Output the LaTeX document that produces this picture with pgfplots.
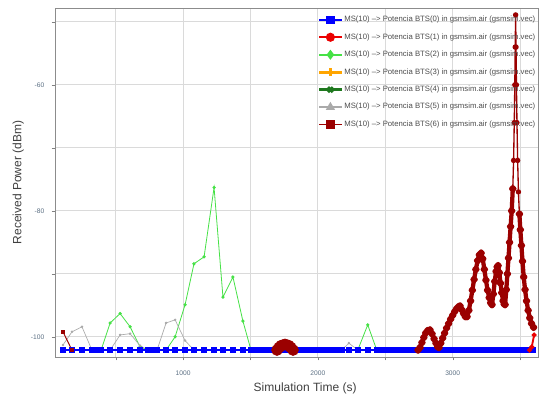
\documentclass[border=0pt]{standalone}
\usepackage{fontspec}
\setmainfont{Liberation Sans}
\usepackage{pgfplots}
\pgfplotsset{compat=1.18}
\definecolor{cblue}{RGB}{0,0,255}
\definecolor{cred}{RGB}{235,0,0}
\definecolor{cgreen}{RGB}{70,225,70}
\definecolor{corange}{RGB}{255,165,0}
\definecolor{cdkgreen}{RGB}{30,120,30}
\definecolor{cgray}{RGB}{170,170,170}
\definecolor{cdkred}{RGB}{155,0,0}
\definecolor{gridc}{RGB}{218,218,218}
\definecolor{tickc}{RGB}{90,110,130}
\begin{document}
\begin{tikzpicture}
\path[use as bounding box] (-41.25pt,-29.25pt) rectangle (363.75pt,267.75pt);
\begin{axis}[
  at={(0,0)}, anchor=south west,
  width=362.25pt, height=261.75pt, scale only axis,
  xmin=50, xmax=3633, ymin=-103.2, ymax=-47.8,
  xtick={500,1000,1500,2000,2500,3000,3500}, xticklabels={,1000,,2000,,3000,},
  ytick={-100,-90,-80,-70,-60,-50}, yticklabels={-100,,-80,,-60,},
  xtick pos=bottom, ytick pos=left,
  grid=major, major grid style={gridc, line width=0.6pt},
  axis line style={black!45},
  tick align=outside, major tick length=2.5pt, tick style={black!50},
  ticklabel style={font=\fontsize{5}{6}\selectfont, text=tickc},
  xticklabel style={anchor=center, yshift=-10pt},
  yticklabel style={anchor=east, xshift=-2pt},
  xlabel={Simulation Time (s)}, ylabel={Received Power (dBm)},
  label style={font=\fontsize{9}{11}\selectfont, text=black!75},
  xlabel style={at={(axis description cs:0.518,-0.0888)}, anchor=center},
  ylabel style={at={(axis description cs:-0.076,0.5)}, anchor=center},
  legend style={at={(1,1)}, anchor=north east, xshift=-1pt, yshift=-5pt, draw=none, fill=none,
    inner sep=0pt, font=\fontsize{5.8}{6.5}\selectfont, text=black!70, row sep=5.8pt,
    nodes={inner sep=0.8pt}},
  legend cell align=left,
]
% z-order: green, gray, blue, dark red, red
\addplot[forget plot, cgreen, line width=0.6pt, mark=*, mark size=0.9pt] coordinates {
(109,-102.1)(176,-102.1)(250,-102.1)(324,-102.1)(392,-102.1)(459,-97.8)(533,-96.3)(607,-98.4)(681,-101.6)(741,-102.1)(807,-102.1)(874,-102.1)(941,-100.0)(1015,-94.9)(1081,-88.4)(1156,-87.3)(1230,-76.3)(1296,-93.7)(1370,-90.5)(1444,-97.5)(1504,-102.1)(2296,-102.1)(2370,-98.1)(2437,-102.1)};
\addplot[forget plot, cgray, line width=0.5pt, mark=*, mark size=0.7pt] coordinates {
(109,-101.3)(176,-99.2)(250,-98.4)(324,-102.1)(459,-102.1)(533,-99.7)(607,-99.5)(681,-101.4)(741,-102.1)(807,-102.1)(874,-97.8)(941,-97.3)(1015,-100.6)(1081,-102.1)(2178,-102.1)(2230,-101.0)(2296,-102.1)};
\addplot[forget plot, cblue, line width=1pt, mark=square*, mark size=1.6pt] coordinates {
(109,-102.1)(176,-102.1)(250,-102.1)(324,-102.1)(336,-102.1)(348,-102.1)(360,-102.1)(372,-102.1)(384,-102.1)(396,-102.1)(459,-102.1)(533,-102.1)(607,-102.1)(681,-102.1)(741,-102.1)(752,-102.1)(763,-102.1)(774,-102.1)(785,-102.1)(796,-102.1)(807,-102.1)(874,-102.1)(941,-102.1)(1015,-102.1)(1081,-102.1)(1156,-102.1)(1230,-102.1)(1296,-102.1)(1370,-102.1)(1444,-102.1)
(1504,-102.1)(1529,-102.1)(1554,-102.1)(1579,-102.1)(1604,-102.1)(1629,-102.1)(1654,-102.1)(1679,-102.1)(1704,-102.1)(1729,-102.1)(1754,-102.1)(1779,-102.1)(1804,-102.1)(1829,-102.1)(1854,-102.1)(1879,-102.1)(1904,-102.1)(1929,-102.1)(1954,-102.1)(1979,-102.1)(2004,-102.1)(2029,-102.1)(2054,-102.1)(2079,-102.1)(2104,-102.1)(2129,-102.1)(2154,-102.1)(2178,-102.1)
(2230,-102.1)(2296,-102.1)(2370,-102.1)
(2437,-102.1)(2462,-102.1)(2487,-102.1)(2512,-102.1)(2537,-102.1)(2562,-102.1)(2587,-102.1)(2612,-102.1)(2637,-102.1)(2662,-102.1)(2687,-102.1)(2712,-102.1)(2737,-102.1)(2762,-102.1)(2787,-102.1)(2812,-102.1)(2837,-102.1)(2862,-102.1)(2887,-102.1)(2912,-102.1)(2937,-102.1)(2962,-102.1)(2987,-102.1)(3012,-102.1)(3037,-102.1)(3062,-102.1)(3087,-102.1)(3112,-102.1)(3137,-102.1)(3162,-102.1)(3187,-102.1)(3212,-102.1)(3237,-102.1)(3262,-102.1)(3287,-102.1)(3312,-102.1)(3337,-102.1)(3362,-102.1)(3387,-102.1)(3412,-102.1)(3437,-102.1)(3462,-102.1)(3487,-102.1)(3512,-102.1)(3537,-102.1)(3562,-102.1)(3587,-102.1)(3600,-102.1)};
\addplot[forget plot, cdkred, line width=0.7pt, mark=square*, mark size=1.2pt] coordinates {(109,-99.2)(176,-102.1)};
\addplot[forget plot, cdkred, line width=4pt, line cap=round, mark=*, mark size=2.2pt] coordinates {
(1697,-102.1)(1712,-101.7)(1727,-101.4)(1742,-101.3)(1756,-101.2)(1770,-101.3)(1785,-101.4)(1800,-101.7)(1816,-102.1)};
\addplot[forget plot, cdkred, line width=3.2pt, line join=round, mark=*, mark size=1.2pt] coordinates {
(2743,-102.1)(2758,-101.7)(2772,-100.9)(2786,-100.1)(2800,-99.4)(2815,-99.0)(2832,-98.9)(2847,-99.5)(2862,-100.3)(2876,-101.0)(2889,-101.6)(2899,-101.7)(2912,-101.0)(2926,-100.2)(2940,-99.4)(2955,-98.6)(2970,-97.9)(2985,-97.2)(3000,-96.6)(3015,-96.0)(3030,-95.5)(3045,-95.2)(3055,-95.1)(3068,-95.7)(3081,-96.3)(3094,-96.8)(3107,-96.8)(3120,-95.8)(3133,-94.3)(3146,-92.6)(3159,-90.9)(3172,-89.3)(3185,-87.9)(3198,-87.0)(3211,-86.7)(3223,-87.6)(3235,-89.3)(3247,-91.0)(3259,-92.6)(3271,-93.8)(3282,-94.6)(3292,-94.9)(3302,-93.2)(3312,-91.2)(3322,-89.6)(3330,-88.9)(3337,-88.7)(3346,-89.8)(3355,-91.5)(3364,-93.0)(3374,-94.3)(3382,-94.8)(3389,-94.9)(3398,-92.5)(3406,-90.0)(3414,-87.5)(3422,-85.0)(3430,-82.5)(3438,-80.0)(3446,-76.5)};
\addplot[forget plot, cdkred, line width=1pt, mark=*, mark size=1.5pt] coordinates {
(3446,-76.5)(3452,-72.0)(3457,-66.0)(3461,-60.0)(3464,-54.0)(3467,-48.9)(3470,-54.0)(3473,-60.0)(3477,-66.0)(3482,-72.0)(3488,-77.0)(3495,-80.5)};
\addplot[forget plot, cdkred, line width=3.2pt, line join=round, mark=*, mark size=1.2pt] coordinates {
(3495,-80.5)(3502,-83.0)(3510,-85.5)(3518,-88.0)(3527,-90.5)(3537,-92.5)(3548,-94.3)(3560,-95.8)(3572,-97.0)(3585,-97.9)(3600,-98.5)};
\addplot[forget plot, cred, line width=1.4pt, mark=*, mark size=1.1pt] coordinates {(3570,-102.1)(3587,-101.6)(3604,-99.7)};
% legend
\addlegendimage{cblue, line width=1.2pt, mark=square*, mark size=2.6pt}
\addlegendentry{MS(10) --> Potencia BTS(0) in gsmsim.air (gsmsim.vec)}
\addlegendimage{cred, line width=1.2pt, mark=*, mark size=2.8pt}
\addlegendentry{MS(10) --> Potencia BTS(1) in gsmsim.air (gsmsim.vec)}
\addlegendimage{cgreen, line width=1.2pt, mark=diamond*, mark size=2.8pt}
\addlegendentry{MS(10) --> Potencia BTS(2) in gsmsim.air (gsmsim.vec)}
\addlegendimage{corange, line width=2.2pt, mark=+, mark size=3pt}
\addlegendentry{MS(10) --> Potencia BTS(3) in gsmsim.air (gsmsim.vec)}
\addlegendimage{cdkgreen, line width=2.2pt, mark=x, mark size=2.6pt}
\addlegendentry{MS(10) --> Potencia BTS(4) in gsmsim.air (gsmsim.vec)}
\addlegendimage{cgray, line width=1.2pt, mark=triangle*, mark size=2.8pt}
\addlegendentry{MS(10) --> Potencia BTS(5) in gsmsim.air (gsmsim.vec)}
\addlegendimage{cdkred, line width=1.2pt, mark=square*, mark size=2.6pt}
\addlegendentry{MS(10) --> Potencia BTS(6) in gsmsim.air (gsmsim.vec)}
\end{axis}
\end{tikzpicture}
\end{document}
